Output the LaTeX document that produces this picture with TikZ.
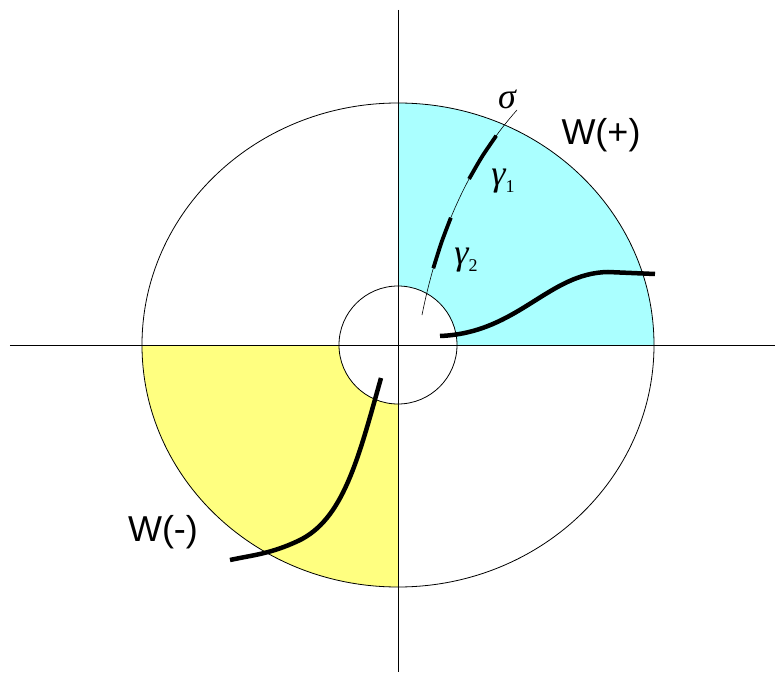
\documentclass[tikz,border=0pt]{standalone}
\usepackage{fontspec}
\setmainfont{Liberation Serif}
\newfontfamily\labelfont{Liberation Sans}
\definecolor{wpluscol}{RGB}{170,255,255}
\definecolor{wminuscol}{RGB}{255,255,128}
\newcommand\gsub[1]{\raisebox{-7pt}{\fontsize{18}{20}\selectfont\upshape #1}}

\begin{document}
\begin{tikzpicture}[x=1pt,y=1pt,line width=0.8pt]
  \def\Rx{256} % ellipse x radius
  \def\Ry{242} % ellipse y radius
  \def\rin{59} % inner circle
  \tikzset{curvebold/.style={line width=4.5pt},
    gammabold/.style={line width=3.8pt},
    sigmaline/.style={line width=0.6pt},
    wlabel/.style={font=\labelfont\fontsize{36}{40}\selectfont},
    glabel/.style={font=\fontsize{36}{40}\selectfont\itshape}}
  \useasboundingbox (-398,-330) rectangle (378,345);

  % filled quadrants
  \foreach \a/\c in {0/wpluscol,180/wminuscol}
  {\fill[\c] (\a:\rin) -- (\a:\Rx)
	arc[start angle=\a,delta angle=90,x radius=\Rx,y radius=\Ry]
	-- ({\a+90}:\rin) arc[start angle=\a+90,delta angle=-90,radius=\rin]
	-- cycle;}

  % ellipse, circle and axes
  \draw (0,0) ellipse[x radius=\Rx,y radius=\Ry];
  \draw (0,0) circle(\rin);
  \draw (-388,0) -- (377,0);
  \draw (0,335) -- (0,-327);

  % sigma and its pieces
  \draw[sigmaline] (24,30) .. controls (40,110) and (70,180) .. (119,235)
	coordinate[pos=0.2] (g2a) coordinate[pos=0.315] (g2m) coordinate[pos=0.43] (g2b)
	coordinate[pos=0.62] (g1a) coordinate[pos=0.735] (g1m) coordinate[pos=0.85] (g1b);
  \draw[gammabold] plot[smooth] coordinates {(g2a) (g2m) (g2b)}; % gamma 2
  \draw[gammabold] plot[smooth] coordinates {(g1a) (g1m) (g1b)}; % gamma 1

  % bold curves
  \draw[curvebold] (42,9) .. controls (120,12) and (150,72) .. (210,73) -- (257,71);
  \draw[curvebold] (-17,-33) .. controls (-40,-115) and (-55,-175) .. (-100,-196)
	.. controls (-128,-209) and (-145,-210) .. (-168,-215);

  % legends
  \node (sigma) at (109,246)[glabel]{σ};
  \node (gamma1) at (105,164)[glabel]{γ\gsub{1}};
  \node (gamma2) at (68,85)[glabel]{γ\gsub{2}};
  \node (wplus) at (203,210)[wlabel]{W(+)};
  \node (wminus) at (-235,-187)[wlabel]{W(-)};
\end{tikzpicture}
\end{document}
